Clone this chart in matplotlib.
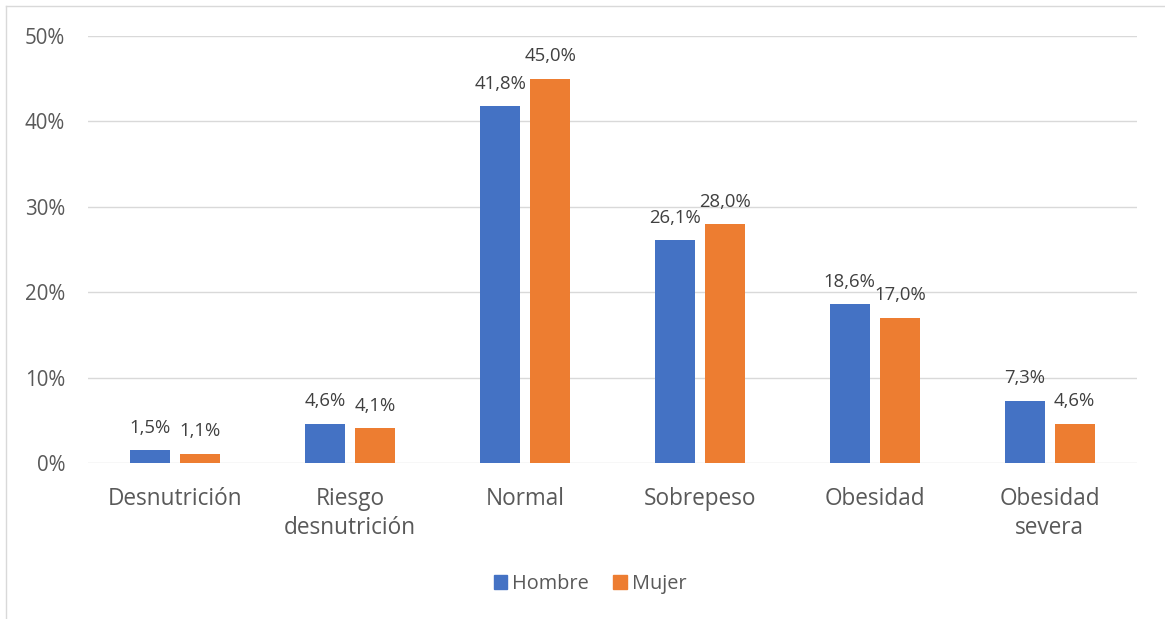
import matplotlib
matplotlib.use("Agg")
import matplotlib.pyplot as plt
import numpy as np
from matplotlib.ticker import FuncFormatter
from matplotlib.patches import Patch

categories = ["Desnutrición", "Riesgo\ndesnutrición", "Normal", "Sobrepeso", "Obesidad", "Obesidad\nsevera"]
hombre = [1.5, 4.6, 41.8, 26.1, 18.6, 7.3]
mujer = [1.1, 4.1, 45.0, 28.0, 17.0, 4.6]
series_names = ["Hombre", "Mujer"]
colors = ["#4472C4", "#ED7D31"]
yticks = [0, 10, 20, 30, 40, 50]

plt.rcParams['font.family'] = ['Open Sans', 'DejaVu Sans']
W, H = 1165, 619
fig = plt.figure(figsize=(W / 100, H / 100), dpi=100)
ax = fig.add_axes([88 / W, 1 - 463 / H, (1137 - 88) / W, (463 - 36) / H])

x = np.arange(len(categories))
bw = 0.229
off = 0.143
text_c = "#595959"
for vals, col, d in [(hombre, colors[0], -off), (mujer, colors[1], off)]:
    bars = ax.bar(x + d, vals, bw, color=col, zorder=3)
    for b, v in zip(bars, vals):
        ax.annotate(f"{v:.1f}%".replace(".", ","), (b.get_x() + b.get_width() / 2, v),
                    xytext=(0, 12.5), textcoords="offset points",
                    ha="center", va="baseline", fontsize=13.3, color="#404040", zorder=4)

ax.set_xlim(-0.5, len(categories) - 0.5)
ax.set_ylim(0, 50)
ax.set_yticks(yticks)
ax.yaxis.set_major_formatter(FuncFormatter(lambda v, p: f"{int(v)}%"))
ax.grid(axis="y", color="#D9D9D9", linewidth=1, zorder=0)
for s in ax.spines.values():
    s.set_visible(False)
ax.tick_params(axis="y", length=0, pad=16.5, labelsize=14.8, labelcolor=text_c)
ax.tick_params(axis="x", length=0, pad=17, labelsize=16.3, labelcolor=text_c)
ax.set_xticks(x)
ax.set_xticklabels(categories, linespacing=1.3, va="top")

handles = [Patch(color=c) for c in colors]
fig.legend(handles, series_names, loc="center", bbox_to_anchor=(590 / W, 1 - 584 / H),
           ncol=2, frameon=False, fontsize=14.3, handlelength=0.7, handleheight=0.7,
           handletextpad=0.25, columnspacing=1.2, labelcolor=text_c)

# chart border (partially cropped)
fig.add_artist(plt.Line2D([6 / W, 1], [1 - 6 / H, 1 - 6 / H], transform=fig.transFigure, color="#D9D9D9", lw=1))
fig.add_artist(plt.Line2D([6 / W, 6 / W], [0, 1 - 6 / H], transform=fig.transFigure, color="#D9D9D9", lw=1))

fig.savefig("out.png", dpi=100)
